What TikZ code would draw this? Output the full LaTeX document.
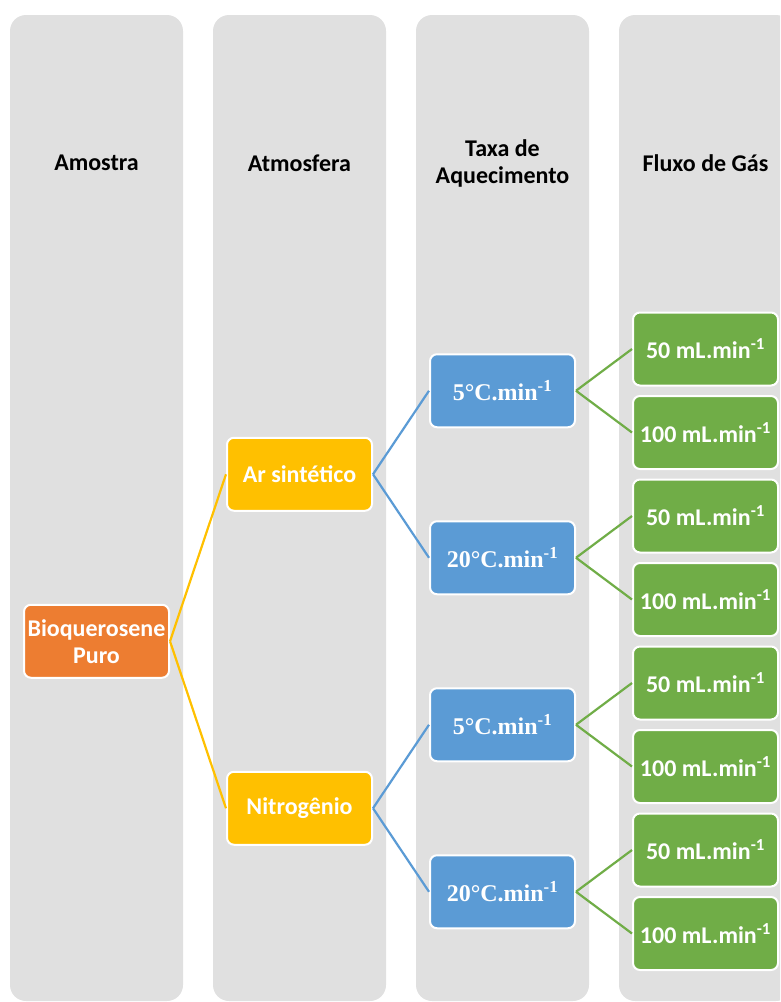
\documentclass[tikz,border=0pt]{standalone}
\usepackage{fontspec}
\setmainfont{Carlito}
\newfontfamily\timesfont{Liberation Serif}
\usepackage{tikz}
\definecolor{col_gray}{HTML}{E0E0E0}
\definecolor{col_orange}{HTML}{ED7D31}
\definecolor{col_yellow}{HTML}{FFC000}
\definecolor{col_blue}{HTML}{5B9BD5}
\definecolor{col_green}{HTML}{70AD47}
\tikzstyle{column_box} = [fill=col_gray, rounded corners=16pt]
\tikzstyle{column_head} = [align=center, font=\fontsize{24}{27}\selectfont\bfseries]
\tikzstyle{node_box} = [draw=white, line width=2pt, rounded corners=7pt, minimum width=145pt, minimum height=73pt, inner sep=0pt, text=white, align=center, font=\fontsize{24}{27}\selectfont\bfseries]
\tikzstyle{node_sample} = [node_box, fill=col_orange]
\tikzstyle{node_atm} = [node_box, fill=col_yellow]
\tikzstyle{node_rate} = [node_box, fill=col_blue, font=\fontsize{24}{27}\selectfont\timesfont\bfseries]
\tikzstyle{node_flow} = [node_box, fill=col_green]
\tikzstyle{edge_atm} = [col_yellow, line width=2.2pt]
\tikzstyle{edge_rate} = [col_blue, line width=2.2pt]
\tikzstyle{edge_flow} = [col_green, line width=2.2pt]

\begin{document}
\begin{tikzpicture}[x=1pt, y=-1pt]
\useasboundingbox (0,0) rectangle (780,1002);
\clip (0,0) rectangle (780,1002);

% columns
\fill[column_box] (10,15) rectangle (183,1001);
\fill[column_box] (213,15) rectangle (386,1001);
\fill[column_box] (416,15) rectangle (589,1001);
\fill[column_box] (619,15) rectangle (792,1001);

\node (H1) at (96.5,163) [column_head] {Amostra};
\node (H2) at (299.5,163) [column_head] {Atmosfera};
\node (H3) at (502.5,163) [column_head] {Taxa de\\Aquecimento};
\node (H4) at (705.5,163) [column_head] {Fluxo de Gás};

\def\ax{96.5}
\def\bx{299.5}
\def\cx{502.5}
\def\dx{705.5}

\node (S) at (\ax,641.25) [node_sample] {Bioquerosene\\Puro};

\node (A1) at (\bx,474.25) [node_atm] {Ar sintético};
\node (A2) at (\bx,808.25) [node_atm] {Nitrogênio};

\node (R1) at (\cx,390.75) [node_rate] {5°C.min\textsuperscript{-1}};
\node (R2) at (\cx,557.75) [node_rate] {20°C.min\textsuperscript{-1}};
\node (R3) at (\cx,724.75) [node_rate] {5°C.min\textsuperscript{-1}};
\node (R4) at (\cx,891.75) [node_rate] {20°C.min\textsuperscript{-1}};

\node (F1) at (\dx,349) [node_flow] {50 mL.min\textsuperscript{-1}};
\node (F2) at (\dx,432.5) [node_flow] {100 mL.min\textsuperscript{-1}};
\node (F3) at (\dx,516) [node_flow] {50 mL.min\textsuperscript{-1}};
\node (F4) at (\dx,599.5) [node_flow] {100 mL.min\textsuperscript{-1}};
\node (F5) at (\dx,683) [node_flow] {50 mL.min\textsuperscript{-1}};
\node (F6) at (\dx,766.5) [node_flow] {100 mL.min\textsuperscript{-1}};
\node (F7) at (\dx,850) [node_flow] {50 mL.min\textsuperscript{-1}};
\node (F8) at (\dx,933.5) [node_flow] {100 mL.min\textsuperscript{-1}};

% connectors
\draw[edge_atm] (S.east) -- (A1.west);
\draw[edge_atm] (S.east) -- (A2.west);
\draw[edge_rate] (A1.east) -- (R1.west);
\draw[edge_rate] (A1.east) -- (R2.west);
\draw[edge_rate] (A2.east) -- (R3.west);
\draw[edge_rate] (A2.east) -- (R4.west);
\draw[edge_flow] (R1.east) -- (F1.west);
\draw[edge_flow] (R1.east) -- (F2.west);
\draw[edge_flow] (R2.east) -- (F3.west);
\draw[edge_flow] (R2.east) -- (F4.west);
\draw[edge_flow] (R3.east) -- (F5.west);
\draw[edge_flow] (R3.east) -- (F6.west);
\draw[edge_flow] (R4.east) -- (F7.west);
\draw[edge_flow] (R4.east) -- (F8.west);
\end{tikzpicture}
\end{document}
